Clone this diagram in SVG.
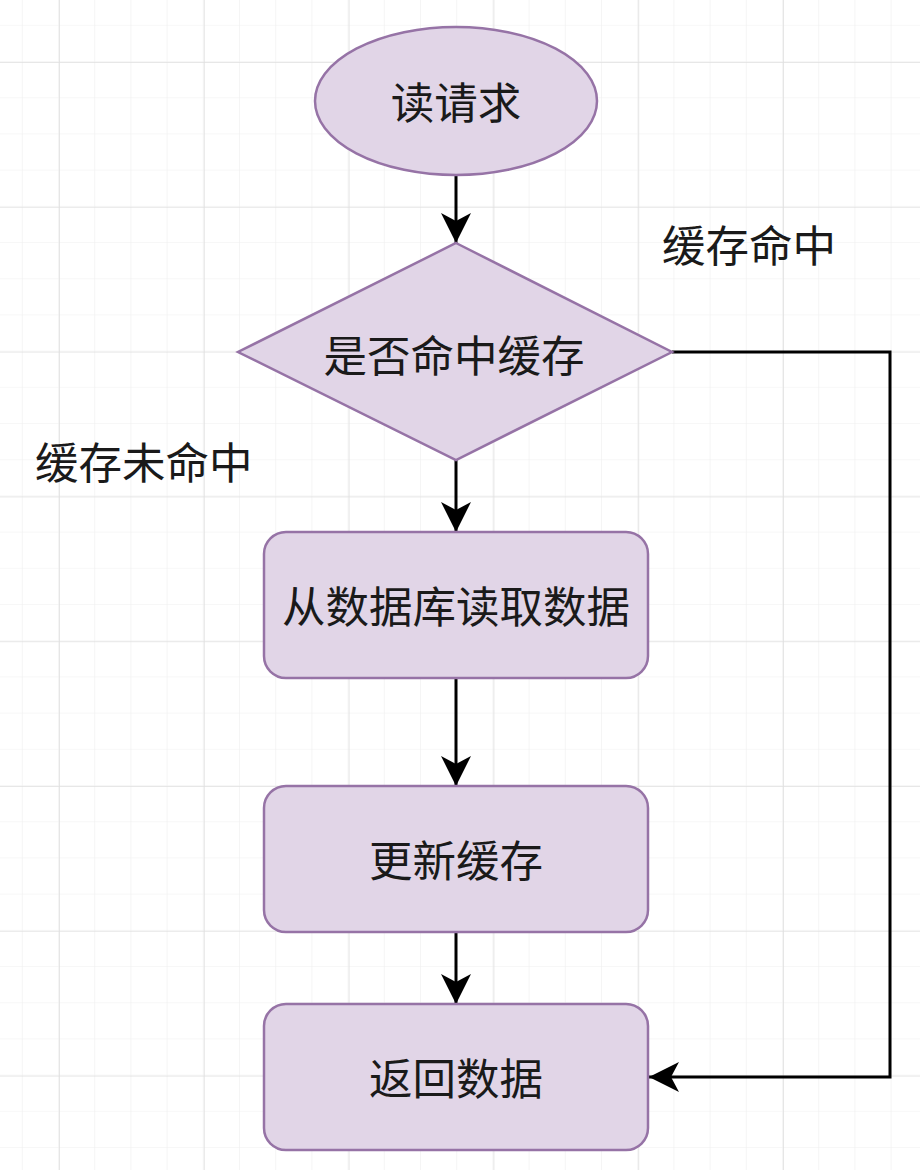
<svg xmlns="http://www.w3.org/2000/svg" width="920" height="1170" viewBox="0 0 920 1170">
<defs>
<pattern id="minor" x="22.8" y="25.8" width="36.2" height="36.2" patternUnits="userSpaceOnUse">
<path d="M36.2,0 V36.2 M0,36.2 H36.2" fill="none" stroke="#efefef" stroke-width="1.2"/>
</pattern>
<pattern id="major" x="59" y="62" width="144.8" height="144.8" patternUnits="userSpaceOnUse">
<path d="M0,0 V144.8 M0,0 H144.8" fill="none" stroke="#e0e0e0" stroke-width="1.6"/>
</pattern>
<marker id="arrow" viewBox="0 -15 30 30" refX="30" refY="0" markerWidth="30" markerHeight="30" markerUnits="userSpaceOnUse" orient="auto">
<path d="M0,-15 L30,0 L0,15 L8,0 Z" fill="#000"/>
</marker>
</defs>
<style>
.node{fill:#e1d5e7;stroke:#9673a6;stroke-width:2.5}
.t{font-family:"Noto Sans CJK SC","Noto Sans",sans-serif;font-size:43.5px;fill:#1a1a1a;text-anchor:middle;dominant-baseline:central}
.lbl{font-family:"Noto Sans CJK SC","Noto Sans",sans-serif;font-size:43.5px;fill:#1a1a1a;dominant-baseline:central}
.edge{fill:none;stroke:#000;stroke-width:3;marker-end:url(#arrow)}
</style>
<rect width="920" height="1170" fill="#fff"/>
<rect width="920" height="1170" fill="url(#minor)"/>
<rect width="920" height="1170" fill="url(#major)"/>
<g id="connectors">
<path class="edge" d="M456,176 V243"/>
<path class="edge" d="M456,460 V532"/>
<path class="edge" d="M456,678 V786"/>
<path class="edge" d="M456,932 V1004"/>
<path class="edge" d="M672,352 H890 V1077 H649"/>
</g>
<g id="n-start">
<ellipse class="node" cx="456" cy="101" rx="141" ry="74"/>
<text class="t" x="456" y="100">读请求</text>
</g>
<g id="n-decision">
<polygon class="node" points="456,243 672,352 456,460 238,352"/>
<text class="t" x="454" y="353">是否命中缓存</text>
</g>
<g id="n-read-db">
<rect class="node" x="264" y="532" width="384" height="146" rx="22"/>
<text class="t" x="456" y="604">从数据库读取数据</text>
</g>
<g id="n-update">
<rect class="node" x="264" y="786" width="384" height="146" rx="22"/>
<text class="t" x="456" y="858">更新缓存</text>
</g>
<g id="n-return">
<rect class="node" x="264" y="1004" width="384" height="146" rx="22"/>
<text class="t" x="456" y="1076">返回数据</text>
</g>
<g id="labels">
<text class="lbl" x="662" y="243">缓存命中</text>
<text class="lbl" x="35" y="460">缓存未命中</text>
</g>
</svg>
